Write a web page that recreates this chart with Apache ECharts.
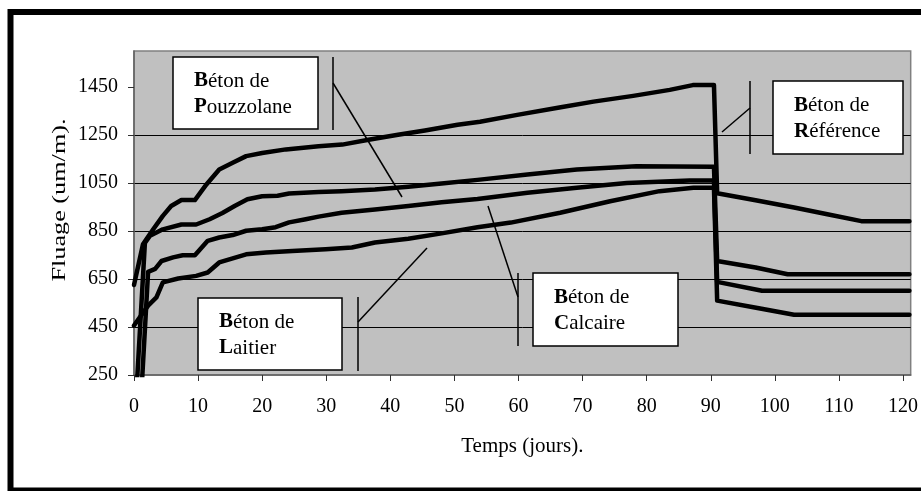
<!DOCTYPE html>
<html>
<head>
<meta charset="utf-8">
<script src="https://cdn.jsdelivr.net/npm/echarts@6/dist/echarts.min.js"></script>
<style>
  html, body { margin: 0; padding: 0; background: #ffffff; }
  #chart { width: 921px; height: 491px; }
</style>
</head>
<body>
<div id="chart"></div>
<script>
// Tick labels
const dayTicks = [0, 10, 20, 30, 40, 50, 60, 70, 80, 90, 100, 110, 120];
const fluageTicks = [250, 450, 650, 850, 1050, 1250, 1450];

// Creep strain (um/m) against time (days): loading up to 90 days, then unloading
const reference = [
  [0, 625], [1.4, 795], [3, 857], [4.5, 913], [5.8, 954], [7.4, 979], [9.5, 979],
  [11.3, 1044], [13.3, 1106], [15.4, 1134], [17.5, 1162], [20, 1175], [23.7, 1190],
  [28.8, 1203], [32.5, 1210], [36.6, 1230], [41.2, 1251], [45.4, 1269], [50.5, 1293],
  [54, 1305], [59.8, 1334], [66.6, 1366], [71.7, 1389], [77.9, 1413], [83.6, 1438],
  [87.2, 1458], [90.5, 1458], [91, 1007], [97, 978], [103, 948], [108, 921],
  [113.5, 891], [121, 891]
];
const pouzzolane = [
  [0, 0], [1.7, 800], [2.5, 830], [4.5, 857], [7.4, 877], [9.7, 877], [11.8, 899],
  [13.8, 925], [15.7, 954], [17.7, 982], [20, 995], [22.4, 997], [24.2, 1006],
  [28.8, 1012], [32.4, 1016], [37.6, 1023], [42.8, 1034], [48, 1048], [53.6, 1063],
  [61.4, 1085], [69.1, 1106], [78.4, 1120], [90.5, 1118], [91, 725], [97, 698],
  [102, 670], [121, 670]
];
const calcaire = [
  [1.1, 150], [2.2, 680], [3.3, 692], [4.3, 725], [6.1, 740], [7.6, 749], [9.5, 749],
  [11.5, 809], [13.3, 823], [15.4, 833], [17.5, 851], [20, 857], [22.1, 866],
  [24.2, 886], [26.8, 899], [28.8, 910], [32.4, 926], [37.6, 940], [42.8, 954],
  [48, 970], [53.6, 983], [61.4, 1009], [69.1, 1030], [76.9, 1050], [86.7, 1060],
  [90.5, 1060], [91, 638], [98, 601], [121, 601]
];
const laitier = [
  [0, 456], [2.2, 539], [3.5, 573], [4.5, 636], [6.9, 652], [9.7, 663], [11.5, 677],
  [13.3, 719], [17.5, 753], [20.6, 760], [24.7, 767], [29.9, 774], [34, 781],
  [37.6, 802], [42.8, 818], [48, 840], [53.6, 866], [58.8, 885], [66.5, 926],
  [74.3, 974], [82, 1016], [87.3, 1030], [90.5, 1030], [91, 560], [97.5, 528],
  [103, 501], [121, 501]
];

const FONT = 'Liberation Serif';

// Callout boxes naming each concrete, with their leader lines
const callouts = [
  { text: '{b|B}éton de\n{b|P}ouzzolane', box: [173, 57, 145, 72], bar: [333, 57, 130], leader: [333, 83, 402, 197] },
  { text: '{b|B}éton de\n{b|R}éférence',  box: [773, 81, 130, 73],  bar: [750, 81, 154], leader: [750, 108, 722, 132] },
  { text: '{b|B}éton de\n{b|L}aitier',     box: [198, 298, 144, 72], bar: [358, 297, 371], leader: [358, 322, 427, 248] },
  { text: '{b|B}éton de\n{b|C}alcaire',    box: [533, 273, 145, 73], bar: [518, 273, 346], leader: [518, 297, 488, 206] }
];

function calloutGraphics() {
  const items = [];
  callouts.forEach(function (c) {
    const [bx, by, bw, bh] = c.box;
    items.push({
      type: 'line', silent: true, z: 20,
      shape: { x1: c.bar[0], y1: c.bar[1], x2: c.bar[0], y2: c.bar[2] },
      style: { stroke: '#000', lineWidth: 1.5 }
    });
    items.push({
      type: 'line', silent: true, z: 20,
      shape: { x1: c.leader[0], y1: c.leader[1], x2: c.leader[2], y2: c.leader[3] },
      style: { stroke: '#000', lineWidth: 1.5 }
    });
    items.push({
      type: 'rect', silent: true, z: 20,
      shape: { x: bx, y: by, width: bw, height: bh },
      style: { fill: '#ffffff', stroke: '#000', lineWidth: 1.5 }
    });
    items.push({
      type: 'text', silent: true, z: 21,
      x: bx + 21, y: by + bh / 2 + 1,
      style: {
        text: c.text,
        fill: '#000',
        fontSize: 21,
        fontFamily: FONT,
        lineHeight: 26,
        align: 'left',
        verticalAlign: 'middle',
        rich: { b: { fontWeight: 'bold', fontSize: 21, fontFamily: FONT, lineHeight: 26 } }
      }
    });
  });
  return items;
}

function lineSeries(name, data) {
  return {
    name: name,
    type: 'line',
    data: data,
    showSymbol: false,
    symbol: 'none',
    clip: true,
    z: 5,
    lineStyle: { color: '#000', width: 4.5, cap: 'round', join: 'round' }
  };
}

const chart = echarts.init(document.getElementById('chart'), null, { renderer: 'canvas' });

chart.setOption({
  animation: false,
  backgroundColor: '#ffffff',
  grid: {
    left: 134, right: 6, top: 51, bottom: 116,
    show: true,
    backgroundColor: '#c0c0c0',
    borderColor: '#808080',
    borderWidth: 1.5
  },
  xAxis: {
    type: 'value',
    min: 0,
    max: 121.2,
    name: 'Temps (jours).',
    nameLocation: 'middle',
    nameGap: 61,
    nameTextStyle: { fontFamily: FONT, fontSize: 21, color: '#000' },
    axisLine: { lineStyle: { color: '#606060', width: 1.5 } },
    axisTick: { show: true, length: 6, customValues: dayTicks, lineStyle: { color: '#303030', width: 1 } },
    axisLabel: { customValues: dayTicks, margin: 22, fontFamily: FONT, fontSize: 20, color: '#000' },
    splitLine: { show: false }
  },
  yAxis: {
    type: 'value',
    min: 250,
    max: 1600,
    axisLine: { show: true, lineStyle: { color: '#606060', width: 1.5 } },
    axisTick: { show: true, length: 6, customValues: fluageTicks, lineStyle: { color: '#303030', width: 1 } },
    axisLabel: {
      customValues: fluageTicks, margin: 16, fontFamily: FONT, fontSize: 20, color: '#000',
      formatter: function (v) { return String(v); }
    },
    splitLine: { show: true, showMinLine: false, showMaxLine: false, lineStyle: { color: '#000', width: 1 } }
  },
  series: [
    lineSeries('Béton de Référence', reference),
    lineSeries('Béton de Pouzzolane', pouzzolane),
    lineSeries('Béton de Calcaire', calcaire),
    lineSeries('Béton de Laitier', laitier)
  ],
  graphic: [
    {
      type: 'rect', silent: true, z: 30,
      shape: { x: 10.5, y: 12, width: 930, height: 478.5 },
      style: { fill: 'none', stroke: '#000', lineWidth: 6 }
    },
    {
      // vertical axis title, set in a stretched face
      type: 'text', silent: true, z: 10,
      x: 60, y: 200,
      rotation: Math.PI / 2,
      scaleX: 1.38,
      style: {
        text: 'Fluage (um/m).',
        fill: '#000',
        fontSize: 19,
        fontFamily: FONT,
        align: 'center',
        verticalAlign: 'middle'
      }
    }
  ].concat(calloutGraphics())
});
</script>
</body>
</html>
